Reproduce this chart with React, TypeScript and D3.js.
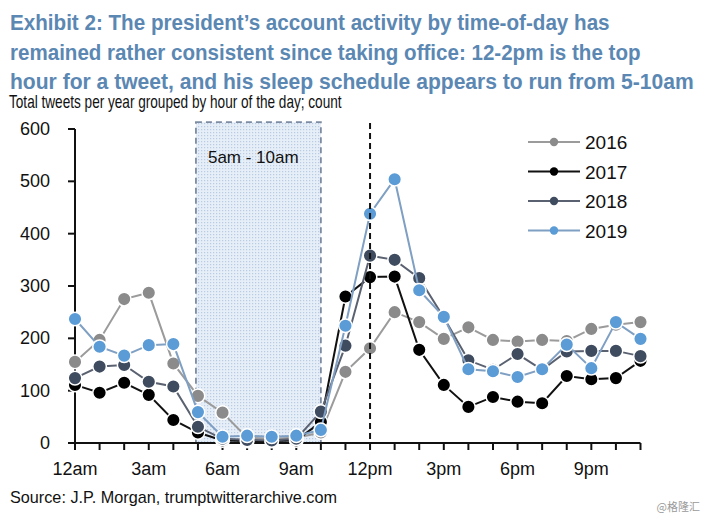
import React, { useEffect, useRef } from "react";
import * as d3 from "d3";

const hours = [0, 1, 2, 3, 4, 5, 6, 7, 8, 9, 10, 11, 12, 13, 14, 15, 16, 17, 18, 19, 20, 21, 22, 23];
const tickHours = [0, 3, 6, 9, 12, 15, 18, 21];
const tickLabels = ["12am", "3am", "6am", "9am", "12pm", "3pm", "6pm", "9pm"];
const yTicks = [0, 100, 200, 300, 400, 500, 600];

const years = ["2016", "2017", "2018", "2019"];
const s2016 = [155, 197, 275, 287, 152, 90, 58, 10, 8, 10, 20, 136, 181, 250, 231, 199, 221, 197, 194, 197, 195, 218, 226, 231];
const s2017 = [111, 96, 115, 92, 44, 20, 5, 4, 4, 5, 40, 280, 317, 318, 178, 111, 69, 88, 79, 76, 128, 122, 124, 157];
const s2018 = [124, 146, 149, 117, 108, 31, 8, 6, 5, 8, 60, 186, 358, 350, 315, 240, 158, 140, 170, 140, 175, 176, 176, 166];
const s2019 = [237, 184, 167, 187, 189, 59, 12, 14, 12, 14, 25, 224, 438, 504, 292, 241, 141, 137, 126, 141, 188, 143, 231, 199];
const seriesValues = [s2016, s2017, s2018, s2019];

const lineColors = ["#9b9b9b", "#111111", "#5a6170", "#7f9fc3"];
const dotColors = ["#8b8b8b", "#000000", "#3f4b5e", "#5b9bd6"];

const sleepStart = 5;
const sleepEnd = 10;
const sleepTop = 613;
const noonHour = 12;

const titleLines = [
  "Exhibit 2: The president\u2019s account activity by time-of-day has",
  "remained rather consistent since taking office: 12-2pm is the top",
  "hour for a tweet, and his sleep schedule appears to run from 5-10am",
];
const titleWidths = [600, 631, 684];
const subtitle = "Total tweets per year grouped by hour of the day; count";
const source = "Source: J.P. Morgan, trumptwitterarchive.com";
const sleepLabel = "5am - 10am";

const FONT = "'Liberation Sans Narrow', 'Arial Narrow', 'Liberation Sans', Arial, sans-serif";

export default function App() {
  const ref = useRef<SVGSVGElement | null>(null);

  useEffect(() => {
    document.body.style.margin = "0";
    const svg = d3.select(ref.current!);
    svg.selectAll("*").remove();

    const x = d3.scaleLinear().domain([0, 23]).range([75, 640.5]);
    const y = d3.scaleLinear().domain([0, 600]).range([443, 129]);

    svg.append("rect").attr("width", 704).attr("height", 520).attr("fill", "#ffffff");

    const defs = svg.append("defs");
    const pat = defs
      .append("pattern")
      .attr("id", "dots")
      .attr("width", 3)
      .attr("height", 3)
      .attr("patternUnits", "userSpaceOnUse");
    pat.append("rect").attr("width", 3).attr("height", 3).attr("fill", "#e6eef8");
    pat.append("rect").attr("width", 1.2).attr("height", 1.2).attr("fill", "#b9cbe2");

    // horizontally-fitted text via scale transform
    const fitted = (
      tx: number,
      ty: number,
      str: string,
      width: number,
      size: number,
      fill: string,
      weight: string
    ) => {
      const g = svg.append("g");
      const t = g
        .append("text")
        .attr("x", 0)
        .attr("y", 0)
        .attr("font-family", FONT)
        .attr("font-size", size)
        .attr("font-weight", weight)
        .attr("fill", fill)
        .text(str);
      const natural = (t.node() as SVGTextElement).getComputedTextLength() || width;
      const sx = width / natural;
      g.attr("transform", `translate(${tx},${ty}) scale(${sx},1)`);
    };

    // Title
    titleLines.forEach((t, i) => {
      fitted(10, 30 + i * 29.5, t, titleWidths[i], 22, "#5b87b3", "bold");
    });
    fitted(9, 108, subtitle, 333, 18, "#111", "normal");

    // Sleep box
    svg
      .append("rect")
      .attr("x", x(sleepStart) - 2)
      .attr("y", y(sleepTop))
      .attr("width", x(sleepEnd) - x(sleepStart) + 2)
      .attr("height", y(0) - y(sleepTop))
      .attr("fill", "url(#dots)")
      .attr("stroke", "#7d8ca3")
      .attr("stroke-width", 1.8)
      .attr("stroke-dasharray", "6,4");
    svg
      .append("text")
      .attr("x", x(sleepStart) + 10)
      .attr("y", 163)
      .attr("font-family", FONT)
      .attr("font-size", 17)
      .attr("fill", "#111")
      .text(sleepLabel);

    // Axes
    const axes = svg.append("g").attr("stroke", "#111").attr("stroke-width", 2);
    axes.append("line").attr("x1", x(0)).attr("x2", x(0)).attr("y1", y(600)).attr("y2", y(0));
    axes.append("line").attr("x1", x(0) - 7).attr("x2", x(23)).attr("y1", y(0)).attr("y2", y(0));
    yTicks.forEach((v) => {
      axes.append("line").attr("x1", x(0) - 7).attr("x2", x(0)).attr("y1", y(v)).attr("y2", y(v));
    });
    hours.forEach((h) => {
      axes.append("line").attr("x1", x(h)).attr("x2", x(h)).attr("y1", y(0)).attr("y2", y(0) + 7);
    });
    const yl = svg.append("g").attr("font-family", FONT).attr("font-size", 18).attr("fill", "#111");
    yTicks.forEach((v) => {
      yl.append("text").attr("x", 50).attr("y", y(v) + 6).attr("text-anchor", "end").text(String(v));
    });
    tickHours.forEach((h, i) => {
      yl.append("text").attr("x", x(h)).attr("y", 475).attr("text-anchor", "middle").text(tickLabels[i]);
    });

    // Series
    const line = d3
      .line<number>()
      .x((_, i) => x(hours[i]))
      .y((d) => y(d));
    seriesValues.forEach((vals, si) => {
      const g = svg.append("g");
      g.append("path")
        .attr("d", line(vals)!)
        .attr("fill", "none")
        .attr("stroke", lineColors[si])
        .attr("stroke-width", 2);
      g.selectAll("circle")
        .data(vals)
        .enter()
        .append("circle")
        .attr("cx", (_, i) => x(hours[i]))
        .attr("cy", (d) => y(d))
        .attr("r", 6.8)
        .attr("fill", dotColors[si])
        .attr("stroke", "#ffffff")
        .attr("stroke-width", 1.5);
    });

    // Noon dashed line
    svg
      .append("line")
      .attr("x1", x(noonHour))
      .attr("x2", x(noonHour))
      .attr("y1", 123)
      .attr("y2", y(0))
      .attr("stroke", "#111")
      .attr("stroke-width", 2)
      .attr("stroke-dasharray", "6,4");

    // Legend
    const lg = svg.append("g").attr("font-family", FONT).attr("font-size", 19);
    years.forEach((yr, i) => {
      const cy = 142 + i * 29.5;
      lg.append("line")
        .attr("x1", 528)
        .attr("x2", 580)
        .attr("y1", cy)
        .attr("y2", cy)
        .attr("stroke", lineColors[i])
        .attr("stroke-width", 2);
      lg.append("circle").attr("cx", 554).attr("cy", cy).attr("r", 4.2).attr("fill", dotColors[i]);
      lg.append("text").attr("x", 585).attr("y", cy + 7).attr("fill", "#111").text(yr);
    });

    // Source & watermark
    fitted(10, 503, source, 327, 16, "#111", "normal");
    svg
      .append("text")
      .attr("x", 700)
      .attr("y", 511)
      .attr("text-anchor", "end")
      .attr("font-family", "'Noto Sans CJK SC', sans-serif")
      .attr("font-size", 11)
      .attr("fill", "#9a9a9a")
      .text("@格隆汇");
  }, []);

  return <svg ref={ref} width={704} height={520} style={{ display: "block" }} />;
}
